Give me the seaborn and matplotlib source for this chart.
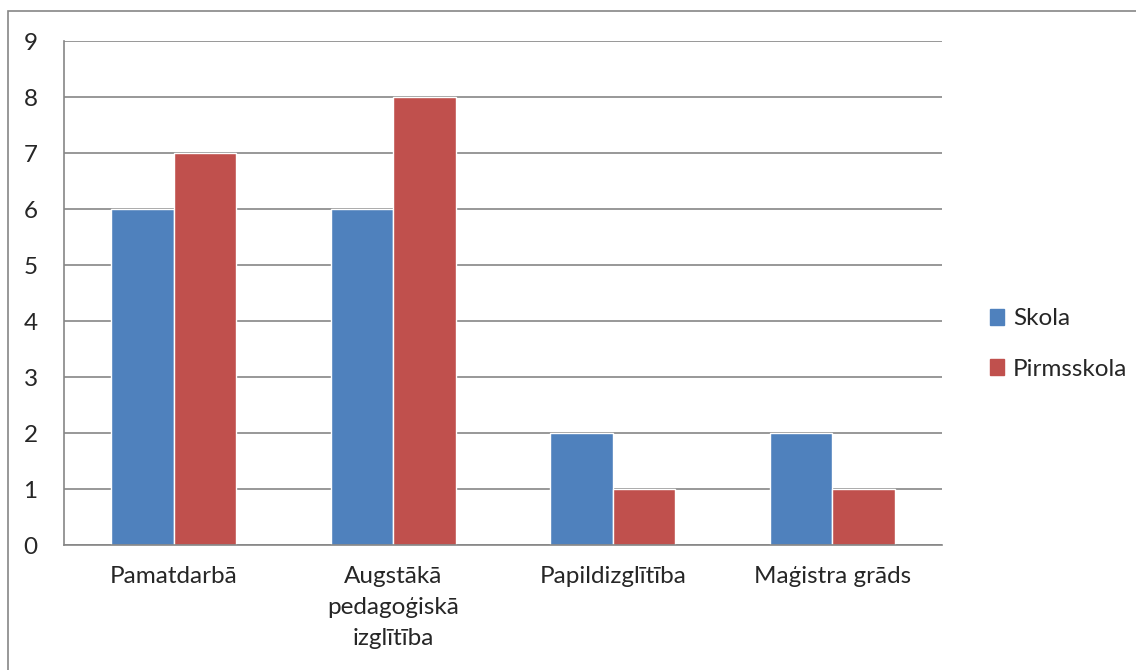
import matplotlib
matplotlib.use("Agg")
import matplotlib.pyplot as plt
import matplotlib.patches as mpatches
import pandas as pd
import seaborn as sns

# Dati
categories = ["Pamatdarbā", "Augstākā\npedagoģiskā\nizglītība", "Papildizglītība", "Maģistra grāds"]
skola = [6, 6, 2, 2]
pirmsskola = [7, 8, 1, 1]
series = ["Skola", "Pirmsskola"]
colors = ["#4F81BD", "#C0504D"]

df = pd.DataFrame({
    "kategorija": categories * 2,
    "vertiba": skola + pirmsskola,
    "grupa": [series[0]] * 4 + [series[1]] * 4,
})

sns.set_style("white")
plt.rcParams["font.family"] = ["Lato", "DejaVu Sans"]

fig = plt.figure(figsize=(11.36, 6.70), dpi=100)
ax = fig.add_axes([64 / 1136, 1 - 545 / 670, (942 - 64) / 1136, (545 - 41) / 670])

sns.barplot(data=df, x="kategorija", y="vertiba", hue="grupa", palette=colors,
            width=0.57, saturation=1, ax=ax, legend=False)

gray = "#868686"
ax.set_ylim(0, 9)
ax.set_xlim(-0.5, 3.5)
ax.set_yticks(range(10))
ax.yaxis.grid(True, color=gray, linewidth=1.2)
ax.set_axisbelow(True)
for s in ["top", "right"]:
    ax.spines[s].set_visible(False)
for s in ["left", "bottom"]:
    ax.spines[s].set_color(gray)
    ax.spines[s].set_linewidth(1.2)

ax.set_xticks([-0.5, 0.5, 1.5, 2.5, 3.5], minor=True)
ax.tick_params(axis="x", which="major", length=0, pad=15, labelsize=17.5)
ax.tick_params(axis="x", which="minor", length=7, color=gray, width=1.2, direction="out")
ax.tick_params(axis="y", length=7, color=gray, width=1.2, labelsize=17.5, pad=12)
for lbl in ax.get_xticklabels():
    lbl.set_linespacing(1.6)
ax.set_xlabel("")
ax.set_ylabel("")

handles = [mpatches.Patch(color=c, label=l) for c, l in zip(colors, series)]
fig.legend(handles=handles, loc="center left", bbox_to_anchor=(968 / 1136, 1 - 344 / 670),
           frameon=False, fontsize=17.5, handlelength=0.6, handleheight=0.6,
           handletextpad=0.35, labelspacing=1.2)

# rāmis ap diagrammu
fig.patches.append(mpatches.Rectangle((8 / 1136, -0.1), 1.2, 1 - 11 / 670 + 0.1,
                                      transform=fig.transFigure, fill=False,
                                      edgecolor=gray, linewidth=1.2))

fig.savefig("out.png", dpi=100)
